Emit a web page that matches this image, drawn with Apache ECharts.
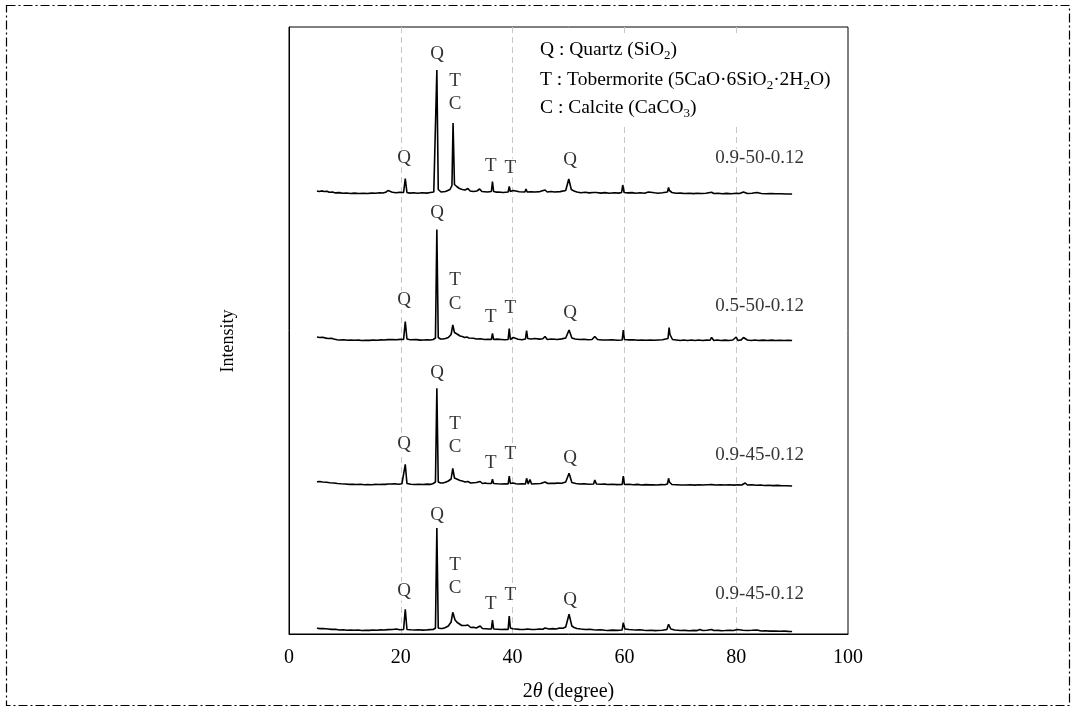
<!DOCTYPE html>
<html>
<head>
<meta charset="utf-8">
<script src="https://cdn.jsdelivr.net/npm/echarts@6/dist/echarts.min.js"></script>
<style>
  html, body { margin: 0; padding: 0; background: #fff; }
  #chart { width: 1080px; height: 709px; }
</style>
</head>
<body>
<div id="chart"></div>
<script>
// XRD patterns, [2theta, intensity above own baseline] (a.u.)
const pattern1 = [[5,2.5],[5.4,2],[5.8,2.6],[6.3,2],[6.8,2.3],[7.2,1.2],[7.8,1.4],[8.3,0.6],[9,0.9],[9.6,0.2],[10.3,0.5],[11,0],[11.7,0.4],[12.5,0],[13.3,0.3],[14,0],[14.8,0.4],[15.5,0.2],[16.2,0.8],[16.8,0.5],[17.3,1.2],[17.7,3],[17.9,1],[18.5,1.3],[19.2,0.7],[19.8,1.2],[20.5,1],[20.8,15],[21.1,1],[21.6,0.4],[22.3,0.8],[23,0.3],[23.8,0.7],[24.6,0.4],[25.3,1],[25.9,1.5],[26.2,3],[26.45,123.5],[26.7,4],[27.2,1.5],[28,2],[28.8,4],[29.15,8],[29.35,70.5],[29.6,9],[30,7],[30.5,5],[31,4],[31.5,3.5],[32,5],[32.4,2.5],[33,2],[33.6,2.5],[34.1,4.5],[34.5,2],[35,1.8],[35.5,1.5],[36.2,2],[36.4,12],[36.6,2],[37,1.4],[37.5,1.5],[38.3,1],[39.2,1.5],[39.4,7],[39.6,2],[40.1,3],[40.4,1.5],[41.2,1.8],[42.2,1.5],[42.4,4.5],[42.6,1.5],[43.3,1.8],[44,1.5],[44.9,1.9],[45.8,3.5],[46.2,1.5],[46.9,2],[47.5,1.5],[48.5,1.9],[49.5,3],[50.05,14.5],[50.5,4],[51,2.4],[51.5,1.5],[52.2,0.8],[53,1.2],[53.7,0.6],[54.4,1],[54.7,2.5],[55,1],[55.8,0.4],[56.5,0.9],[57.3,0.3],[58.2,0.8],[59,0.4],[59.5,1],[59.7,8.5],[59.95,1],[60.6,0.6],[61.4,0.9],[62,0.3],[62.8,0.7],[63.6,0.3],[64.3,1.5],[64.6,0.4],[65.4,0.7],[66,0.3],[66.8,0.8],[67.7,1.5],[67.9,6],[68.05,3],[68.2,5],[68.5,1],[69.2,0.2],[70,0.4],[70.8,0],[71.6,0.3],[72.4,-0.1],[73,0.3],[73.8,0],[74.6,0.2],[75.6,1.2],[76,0],[76.8,0.2],[77.5,-0.2],[78.3,0.1],[79.1,-0.2],[80,0.2],[80.6,0],[81.3,1.5],[82,0],[82.8,0.3],[83.7,1],[84.5,0],[85.3,-0.2],[86.2,0],[87,-0.3],[88,-0.2],[89,-0.5],[90,-0.5]];
const pattern2 = [[5,3.5],[5.5,3],[6,3.2],[6.6,2.4],[7,2],[7.6,2.2],[8,1.5],[8.6,0.8],[9,0.5],[9.8,0.8],[10.5,0.3],[11,0.5],[11.8,0.2],[12.5,0.4],[13,0],[13.8,0.3],[14.5,0.1],[15,0.5],[15.8,0.2],[16.5,0.6],[17,0.5],[17.7,0.9],[18.5,1],[19.2,0.7],[19.9,1.1],[20.5,1],[20.8,19],[21.1,1.5],[21.7,0.8],[22,0.5],[22.8,0.9],[23.5,0.4],[24,0.5],[24.8,0.8],[25.3,0.5],[25.8,1],[26.2,2.5],[26.45,111],[26.7,3],[27.1,1.5],[27.5,1.5],[28,2],[28.5,3],[29,6],[29.3,15.5],[29.6,8],[30.2,6],[30.6,4.5],[31,4],[31.4,3],[31.8,3.5],[32.2,2.5],[32.5,2],[33,2.2],[33.5,1.5],[34.2,1.8],[35,1],[35.6,1.3],[36.2,1],[36.4,7],[36.6,1],[37.2,1.4],[38,1],[38.6,0.7],[39.2,1],[39.4,12],[39.6,1],[40.1,3],[40.4,1],[41,1.3],[41.7,0.8],[42.3,1.5],[42.5,10],[42.7,2],[43.3,1.5],[44,2],[44.8,1.4],[45.4,1.8],[45.8,4],[46.2,1],[47,1.5],[48,1],[48.8,1.6],[49.5,2.5],[50.1,10.5],[50.6,2.5],[51.2,1.5],[52,1],[52.8,1.3],[53.5,0.7],[54.2,1],[54.7,4],[55.2,1],[56,0.5],[57,0.5],[57.8,0.8],[58.7,0.3],[59.6,0.5],[59.8,10.5],[60,1],[60.8,0.6],[61.6,0.8],[62.4,0.3],[63,0.5],[63.8,0.2],[64.6,0.5],[65.4,0.2],[66,0.5],[66.8,0.8],[67.8,2],[68,13],[68.15,6],[68.3,8],[68.6,1],[69.3,0.5],[70,0],[70.6,0.5],[71.3,0],[72,0.5],[72.6,0],[73.3,0.5],[74,0],[74.7,0.4],[75.3,0.2],[75.6,3],[76,0],[76.6,0.5],[77.3,0],[78,0.4],[78.7,0],[79.4,0.5],[80,3.5],[80.3,0],[80.9,0.6],[81.3,3],[82,0.5],[82.7,0],[83.4,0.5],[84,0],[84.8,0.4],[85.6,0],[86.4,0.4],[87,0],[87.8,0.3],[88.6,0],[89.3,0.2],[90,0]];
const pattern3 = [[5,3.3],[5.5,3.5],[6,3],[6.7,2.8],[7.3,2.3],[8,2],[8.7,1.5],[9.3,1.2],[10,1],[10.8,0.6],[11.5,0.8],[12,0.5],[12.8,0.7],[13.5,0.3],[14,0.5],[14.8,0.3],[15.5,0.6],[16,0.5],[16.8,0.8],[17.3,0.6],[17.7,1],[17.9,2.5],[18.2,1],[18.9,1.3],[19.6,0.8],[20.2,1.2],[20.5,1],[20.8,20.7],[21.1,1.5],[21.8,0.8],[22.5,0.5],[23.2,0.8],[24,0.5],[24.7,0.9],[25.3,0.6],[25.8,1.5],[26.2,3],[26.45,96.7],[26.7,3],[27.1,2],[27.5,2],[28,2.8],[28.5,4],[29,6],[29.3,16.7],[29.6,7],[30.2,5.5],[30.6,4.5],[31,4],[31.5,3],[32,3.5],[32.5,2],[33,2.3],[33.5,2.5],[34.2,3.5],[34.6,1.5],[35.1,2],[35.5,1.5],[36.2,1.5],[36.4,5.7],[36.6,1.5],[37.3,1.2],[38,1],[38.7,1.3],[39.2,1],[39.4,9],[39.6,1.5],[40.1,2],[40.6,1.2],[41,1],[41.7,1.3],[42.3,1],[42.5,6.7],[42.8,1],[43.1,5.5],[43.4,1],[44.2,1.3],[45,1.5],[45.8,3],[46.3,1.5],[46.8,1.8],[47.1,2.5],[47.6,1.6],[48,2],[48.8,1.8],[49.5,3],[50.1,11.7],[50.6,2.5],[51.3,1.5],[52,1],[52.8,1.2],[53.6,0.8],[54.5,1],[54.7,5],[55,1],[55.8,0.7],[56.5,0.9],[57,0.5],[57.8,0.8],[58.7,0.4],[59.6,0.5],[59.8,9],[60,0.5],[60.8,0.7],[61.6,0.3],[62.4,0.6],[63,0],[63.8,0.4],[64.5,0.1],[65,0.3],[65.8,0],[66.6,0.4],[67.2,0.2],[67.7,1],[67.9,6.7],[68.05,3],[68.2,5],[68.5,0.5],[69.3,0.3],[70,0],[71,0],[71.8,0.3],[72.6,-0.1],[73.4,0.2],[74,0],[74.8,0.3],[75.6,0.4],[76.4,0],[77.2,0.3],[78,0],[78.8,0.2],[79.6,-0.1],[80.4,0.3],[81,0],[81.6,2],[82,0],[82.8,0.2],[83.6,-0.3],[84.4,0],[85,-0.5],[85.8,-0.3],[86.6,-0.6],[87.4,-0.4],[88.2,-0.8],[89,-0.7],[90,-1]];
const pattern4 = [[5,2.7],[5.6,2.4],[6,2.5],[6.6,2.2],[7,2],[7.6,1.6],[8.3,1.8],[9,1],[9.7,1.2],[10.4,0.8],[11,1],[11.7,0.7],[12.4,1],[13,0.5],[13.7,0.8],[14.4,0.6],[15,1],[15.7,0.7],[16.4,1.1],[17,1],[17.7,1.4],[18.5,1.5],[19.2,2],[19.8,1.3],[20.5,1.5],[20.8,21.7],[21.1,1.5],[21.8,1.2],[22.5,1],[23.2,1.3],[23.9,0.9],[24.5,1],[25.2,1.4],[25.8,1.5],[26.2,3],[26.45,103],[26.7,3],[27.1,2.5],[27.5,2.5],[28,3.5],[28.5,5],[29,9],[29.3,18.7],[29.7,11],[30.1,8.5],[30.5,7],[30.9,5.5],[31.2,5],[31.6,5.5],[32,6],[32.5,3.5],[33,3.8],[33.5,3],[34.2,5],[34.6,2.5],[35.2,2.3],[35.8,2],[36.2,2],[36.4,11],[36.6,2],[37.3,1.8],[38,1.5],[38.7,1.8],[39.2,1.5],[39.4,15],[39.6,3],[40,2.2],[40.5,2],[41.2,1.6],[42,1.5],[42.7,2],[43.4,1.5],[44,1.5],[44.8,2],[45.4,1.7],[45.8,3],[46.5,2],[47.2,2.4],[47.8,2],[48.4,3],[49,2.8],[49.5,4],[50.1,16.7],[50.6,5],[51,3.5],[51.5,2.5],[52.2,2],[53,1.5],[53.8,1.8],[54.5,1.2],[55,1],[55.8,1.3],[56.5,0.8],[57,0.5],[57.8,0.9],[58.7,0.6],[59.6,1],[59.8,8.3],[60.1,2],[60.8,1.5],[61.5,1.2],[62,1],[62.8,1.2],[63.5,0.7],[64,0.5],[64.8,0.8],[65.5,0.4],[66,0.5],[66.8,0.7],[67.6,1.5],[67.9,6.7],[68.3,2],[69,1],[70,0.5],[70.8,0.6],[71.6,0.3],[72.4,0.6],[73,0.4],[73.5,1.5],[74,0.5],[74.8,0.7],[75.6,1.5],[76,0.5],[76.8,0.6],[77.4,0.3],[78,0.5],[78.8,0.8],[79.5,0.5],[80.2,1.5],[80.5,0.5],[81.2,0.8],[82,0.5],[82.8,0.7],[83.7,1],[84.5,0],[85.2,0.3],[86,-0.1],[87,0],[87.8,-0.3],[88.6,0],[89.3,-0.4],[90,-0.5]];

const patterns = [pattern1, pattern2, pattern3, pattern4];
const offsets = [440.5, 293.5, 149, 3];
const sampleNames = ['0.9-50-0.12', '0.5-50-0.12', '0.9-45-0.12', '0.9-45-0.12'];
const sampleNamePos = [[84.2, 35.5], [84.2, 34.5], [84.2, 30], [84.2, 37]];

// phase marks: [2theta, height above baseline, phase]
const peakLabels1 = [[20.6,35.5,'Q'],[26.5,139.5,'Q'],[29.7,112.5,'T'],[29.7,89.5,'C'],[36.1,27.5,'T'],[39.6,25.5,'T'],[50.3,33.5,'Q']];
const peakLabels2 = [[20.6,40.5,'Q'],[26.5,127.5,'Q'],[29.7,60.5,'T'],[29.7,36.5,'C'],[36.1,23.5,'T'],[39.6,32.5,'T'],[50.3,27.5,'Q']];
const peakLabels3 = [[20.6,41,'Q'],[26.5,112,'Q'],[29.7,61,'T'],[29.7,38,'C'],[36.1,22,'T'],[39.6,31,'T'],[50.3,27,'Q']];
const peakLabels4 = [[20.6,40,'Q'],[26.5,116,'Q'],[29.7,66,'T'],[29.7,43,'C'],[36.1,27,'T'],[39.6,36,'T'],[50.3,31,'Q']];
const peakLabels = [peakLabels1, peakLabels2, peakLabels3, peakLabels4];

const xTicks = [0, 20, 40, 60, 80, 100];

const FONT = 'Liberation Serif';

const chart = echarts.init(document.getElementById('chart'));

const series = [];
patterns.forEach((p, i) => {
    series.push({
        type: 'line',
        data: p.map(d => [d[0], d[1] + offsets[i]]),
        showSymbol: false,
        symbol: 'none',
        lineStyle: { color: '#000', width: 1.6 },
        z: 3,
        silent: true
    });
    const marks = peakLabels[i].map(d => [d[0], d[1] + offsets[i], d[2]]);
    marks.push([sampleNamePos[i][0], sampleNamePos[i][1] + offsets[i], sampleNames[i]]);
    series.push({
        type: 'scatter',
        data: marks,
        symbolSize: 1,
        itemStyle: { color: 'rgba(0,0,0,0)' },
        label: {
            show: true,
            position: 'inside',
            formatter: (pr) => pr.value[2],
            color: '#000',
            fontFamily: FONT,
            fontSize: 19,
            backgroundColor: '#fff',
            padding: [0, 1]
        },
        z: 5,
        silent: true
    });
});

const sub = { fontFamily: FONT, fontSize: 13, verticalAlign: 'bottom', lineHeight: 15, color: '#000' };
const nrm = { fontFamily: FONT, fontSize: 19.5, lineHeight: 24, color: '#000' };

chart.setOption({
    animation: false,
    textStyle: { fontFamily: FONT },
    grid: {
        left: 289, top: 27, width: 559, height: 607,
        show: true, borderColor: '#000', borderWidth: 1, backgroundColor: 'transparent'
    },
    xAxis: {
        type: 'value', min: xTicks[0], max: xTicks[xTicks.length - 1], interval: 20,
        axisLine: { show: true, lineStyle: { color: '#000', width: 1 } },
        axisTick: { show: false },
        axisLabel: { color: '#000', fontSize: 20, fontFamily: FONT, margin: 14 },
        splitLine: { show: true, showMinLine: false, showMaxLine: false, lineStyle: { color: '#c8c8c8', type: [6, 4], width: 1 } },
        name: '2{i|θ} (degree)',
        nameLocation: 'middle',
        nameGap: 48,
        nameTextStyle: {
            color: '#000', fontSize: 20, fontFamily: FONT,
            rich: { i: { fontStyle: 'italic', fontSize: 20, fontFamily: FONT, color: '#000' } }
        }
    },
    yAxis: {
        type: 'value', min: 0, max: 607,
        axisLine: { show: true, lineStyle: { color: '#000', width: 1 } },
        axisTick: { show: false },
        axisLabel: { show: false },
        splitLine: { show: false }
    },
    graphic: [
        {
            type: 'rect',
            shape: { x: 6.5, y: 5.5, width: 1063, height: 700 },
            style: { fill: 'none', stroke: '#000', lineWidth: 1.2, lineDash: [9, 3, 2, 3] },
            silent: true
        },
        {
            type: 'text',
            x: 228, y: 341, rotation: Math.PI / 2,
            style: { text: 'Intensity', fontFamily: FONT, fontSize: 18, fill: '#000', align: 'center', verticalAlign: 'middle' }
        },
        {
            type: 'rect',
            shape: { x: 534, y: 34, width: 310, height: 90 },
            style: { fill: '#fff' },
            z: 10, silent: true
        },
        {
            type: 'text', x: 540, y: 50, z: 11,
            style: {
                text: '{n|Q : Quartz (SiO}{s|2}{n|)}',
                verticalAlign: 'middle', rich: { n: nrm, s: sub }
            }
        },
        {
            type: 'text', x: 540, y: 80, z: 11,
            style: {
                text: '{n|T : Tobermorite (5CaO·6SiO}{s|2}{n|·2H}{s|2}{n|O)}',
                verticalAlign: 'middle', rich: { n: nrm, s: sub }
            }
        },
        {
            type: 'text', x: 540, y: 108, z: 11,
            style: {
                text: '{n|C : Calcite (CaCO}{s|3}{n|)}',
                verticalAlign: 'middle', rich: { n: nrm, s: sub }
            }
        }
    ],
    series: series
});
</script>
</body>
</html>
